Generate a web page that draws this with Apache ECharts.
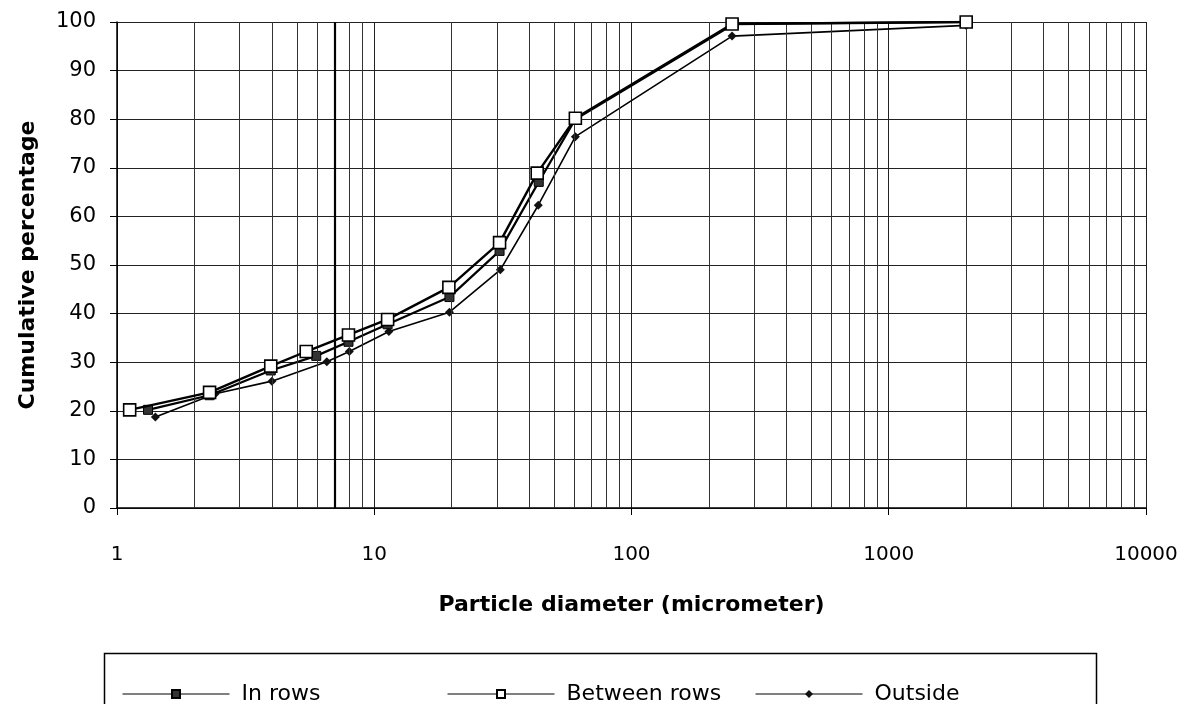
<!DOCTYPE html>
<html>
<head>
<meta charset="utf-8">
<script src="https://cdn.jsdelivr.net/npm/echarts@6/dist/echarts.min.js"></script>
<style>html,body{margin:0;padding:0;background:#fff}#chart{width:1191px;height:704px}</style>
</head>
<body>
<div id="chart"></div>
<script>
// ---- data ----
const inRowsX   = [1.32, 2.29, 3.96, 5.95, 7.94, 11.27, 19.6, 30.7, 43.6, 60.5, 250, 2000];
const inRowsY   = [20.2, 23.2, 28.3, 31.3, 34.2, 37.8, 43.4, 52.9, 67.1, 80.0, 99.6, 100];
const betweenX  = [1.12, 2.29, 3.96, 5.44, 7.94, 11.27, 19.5, 30.7, 43.0, 60.5, 246, 2000];
const betweenY  = [20.2, 23.8, 29.2, 32.2, 35.6, 38.8, 45.4, 54.6, 68.9, 80.2, 99.6, 100];
const outsideX  = [1.41, 2.41, 4.0, 6.54, 8.0, 11.4, 19.6, 30.9, 43.4, 60.5, 246, 2000];
const outsideY  = [18.7, 23.5, 26.1, 30.1, 32.2, 36.3, 40.3, 49.0, 62.3, 76.4, 97.1, 99.3];
const seriesNames = ['In rows', 'Between rows', 'Outside'];
const xTickLabels = ['1', '10', '100', '1000', '10000'];
const yTickLabels = ['0','10','20','30','40','50','60','70','80','90','100'];

const zip = (xs, ys) => xs.map((x, i) => [x, ys[i]]);
const FONT = 'DejaVu Sans';

// minor vertical gridlines (2..9 per decade) and small ticks under the x axis
const minorLines = [];
for (let d = 1; d <= 1000; d *= 10) for (let k = 2; k <= 9; k++) minorLines.push({ xAxis: d * k });
minorLines.push({ xAxis: 7, lineStyle: { width: 2.2, color: '#000' } });
const tickMarks = [];
for (let d = 1; d <= 1000; d *= 10) for (let k = 2; k <= 9; k++)
  tickMarks.push([{ coord: [d * k, -0.9] }, { coord: [d * k, 0] }]);

const chart = echarts.init(document.getElementById('chart'), null, { renderer: 'canvas' });
const legendBase = {
  orient: 'horizontal', top: 678, itemWidth: 107, itemHeight: 10, itemGap: 0,
  textStyle: { fontFamily: FONT, fontSize: 22, color: '#000', padding: [0, 0, 0, 7] },
  lineStyle: { width: 1, color: '#000' }
};
chart.setOption({
  animation: false,
  backgroundColor: '#fff',
  grid: { left: 117, right: 45, top: 22, bottom: 196, containLabel: false },
  xAxis: {
    type: 'log', logBase: 10, min: 1, max: 10000,
    name: 'Particle diameter (micrometer)', nameLocation: 'middle', nameGap: 86,
    nameTextStyle: { fontFamily: FONT, fontWeight: 'bold', fontSize: 22, color: '#000' },
    axisLine: { lineStyle: { color: '#000', width: 1.5 } },
    axisTick: { show: true, length: 7, lineStyle: { color: '#000' } },
    axisLabel: { fontFamily: FONT, fontSize: 20, color: '#000', margin: 37,
      formatter: v => { const i = Math.round(Math.log10(v)); return xTickLabels[i] ?? ''; } },
    splitLine: { show: true, lineStyle: { color: '#222', width: 1 } }
  },
  yAxis: {
    type: 'value', min: 0, max: 100, interval: 10,
    name: 'Cumulative percentage', nameLocation: 'middle', nameGap: 78,
    nameTextStyle: { fontFamily: FONT, fontWeight: 'bold', fontSize: 22, color: '#000' },
    axisLine: { show: true, lineStyle: { color: '#000', width: 1.5 } },
    axisTick: { show: true, length: 7, lineStyle: { color: '#000' } },
    axisLabel: { fontFamily: FONT, fontSize: 21, color: '#000', margin: 21,
      formatter: v => yTickLabels[Math.round(v / 10)] },
    splitLine: { show: true, lineStyle: { color: '#222', width: 1 } }
  },
  legend: [
    Object.assign({}, legendBase, { left: 117, data: [seriesNames[0]] }),
    Object.assign({}, legendBase, { left: 442, data: [seriesNames[1]] }),
    Object.assign({}, legendBase, { left: 750, data: [seriesNames[2]] })
  ],
  graphic: [{
    type: 'rect', left: 102, top: 651, silent: true,
    shape: { width: 992, height: 90 },
    style: { fill: 'none', stroke: '#000', lineWidth: 1.5 }
  }],
  series: [
    {
      name: '_grid', type: 'line', data: [], silent: true, z: 1,
      markLine: { silent: true, symbol: ['none', 'none'], label: { show: false },
        lineStyle: { color: '#333', width: 1, type: 'solid' },
        data: minorLines.concat(tickMarks), animation: false }
    },
    {
      name: seriesNames[2], type: 'line', data: zip(outsideX, outsideY), z: 3,
      symbol: 'diamond', symbolSize: 9,
      lineStyle: { color: '#000', width: 1.6 },
      itemStyle: { color: '#111', borderColor: '#000', borderWidth: 0 }
    },
    {
      name: seriesNames[0], type: 'line', data: zip(inRowsX, inRowsY), z: 4,
      symbol: 'rect', symbolSize: 9,
      lineStyle: { color: '#000', width: 2.2 },
      itemStyle: { color: '#333', borderColor: '#000', borderWidth: 1 }
    },
    {
      name: seriesNames[1], type: 'line', data: zip(betweenX, betweenY), z: 5,
      symbol: 'rect', symbolSize: 12,
      lineStyle: { color: '#000', width: 2.4 },
      itemStyle: { color: '#fff', borderColor: '#000', borderWidth: 1.6 }
    }
  ]
});
</script>
</body>
</html>
